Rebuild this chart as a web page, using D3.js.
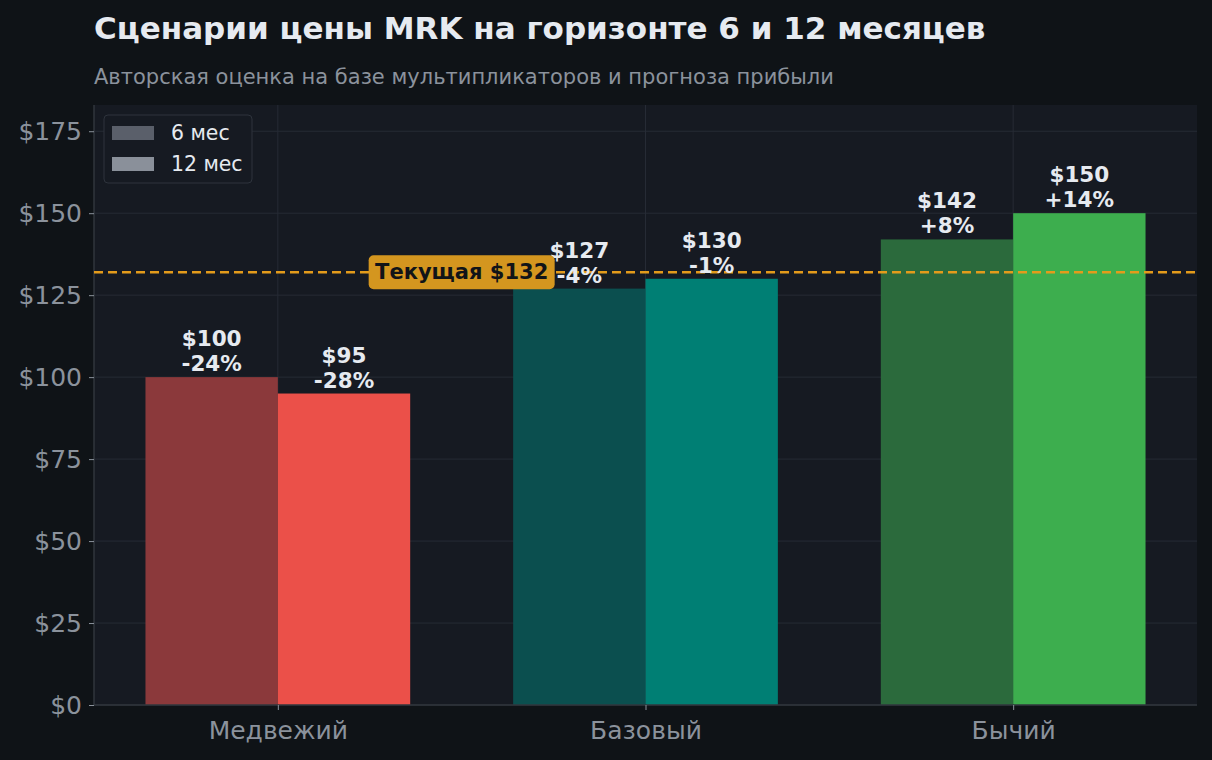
<!DOCTYPE html>
<html>
<head>
<meta charset="utf-8">
<script src="https://cdn.jsdelivr.net/npm/d3@7"></script>
<style>
  html, body { margin: 0; padding: 0; background: #0f1317; }
  svg { display: block; font-family: "DejaVu Sans", sans-serif; }
</style>
</head>
<body>
<div id="chart"></div>
<script>
const width = 1212;
const height = 760;
const margin = { top: 105, right: 15, bottom: 55, left: 94 };

// данные
const scenarios = ['Медвежий', 'Базовый', 'Бычий'];
const horizons = ['6 мес', '12 мес'];
const price6m = [100, 127, 142];
const price12m = [95, 130, 150];
const pct6m = ['-24%', '-4%', '+8%'];
const pct12m = ['-28%', '-1%', '+14%'];
const currentPrice = 132;
const yTicks = [0, 25, 50, 75, 100, 125, 150, 175];

const colors6m = ['#8b393b', '#0b4f4f', '#2b6a3c'];
const colors12m = ['#eb5049', '#007f74', '#3dae4e'];
const legendColors = ['#5a5f6a', '#8a909a'];

const svg = d3.select('#chart')
    .append('svg')
    .attr('width', width)
    .attr('height', height);

svg.append('rect')
    .attr('width', width)
    .attr('height', height)
    .attr('fill', '#0f1317');

const x = d3.scaleLinear()
    .domain([-0.5, 2.5])
    .range([margin.left, width - margin.right]);

const y = d3.scaleLinear()
    .domain([0, 150 * 1.22])
    .range([height - margin.bottom, margin.top]);

const barW = x(0.36) - x(0);

svg.append('rect')
    .attr('x', margin.left)
    .attr('y', margin.top)
    .attr('width', width - margin.right - margin.left)
    .attr('height', height - margin.bottom - margin.top)
    .attr('fill', '#161a22');

// сетка
svg.append('g')
    .selectAll('line')
    .data(yTicks)
    .join('line')
    .attr('x1', margin.left)
    .attr('x2', width - margin.right)
    .attr('y1', d => y(d))
    .attr('y2', d => y(d))
    .attr('stroke', '#262b35')
    .attr('stroke-width', 1);

svg.append('g')
    .selectAll('line')
    .data(d3.range(scenarios.length))
    .join('line')
    .attr('x1', d => x(d))
    .attr('x2', d => x(d))
    .attr('y1', margin.top)
    .attr('y2', height - margin.bottom)
    .attr('stroke', '#262b35')
    .attr('stroke-width', 1);

// столбцы
const bars = [];
scenarios.forEach((s, i) => {
    bars.push({ i, v: price6m[i], pct: pct6m[i], off: -0.18, color: colors6m[i] });
    bars.push({ i, v: price12m[i], pct: pct12m[i], off: 0.18, color: colors12m[i] });
});

svg.append('g')
    .selectAll('rect')
    .data(bars)
    .join('rect')
    .attr('x', d => x(d.i + d.off) - barW / 2)
    .attr('y', d => y(d.v))
    .attr('width', barW)
    .attr('height', d => y(0) - y(d.v))
    .attr('fill', d => d.color);

// оси
const yAxis = svg.append('g')
    .attr('transform', `translate(${margin.left},0)`)
    .call(d3.axisLeft(y).tickValues(yTicks).tickFormat(d => `$${d}`).tickSize(5).tickPadding(7));

const xAxis = svg.append('g')
    .attr('transform', `translate(0,${height - margin.bottom})`)
    .call(d3.axisBottom(x).tickValues(d3.range(scenarios.length)).tickFormat(i => scenarios[i]).tickSize(5).tickPadding(11));

[yAxis, xAxis].forEach(g => {
    g.select('.domain').attr('stroke', '#30363d').attr('stroke-width', 1.5);
    g.selectAll('.tick line').attr('stroke', '#8b929c');
    g.selectAll('.tick text')
        .attr('fill', '#8b929c')
        .attr('font-size', '25px')
        .attr('font-family', 'DejaVu Sans');
});
xAxis.select('.domain').attr('d', `M${margin.left},0H${width - margin.right}`);
yAxis.select('.domain').attr('d', `M0,${margin.top}V${height - margin.bottom}`);

// текущая цена
svg.append('line')
    .attr('x1', margin.left)
    .attr('x2', width - margin.right)
    .attr('y1', y(currentPrice))
    .attr('y2', y(currentPrice))
    .attr('stroke', '#e39b1b')
    .attr('stroke-width', 2.5)
    .attr('stroke-dasharray', '9,5');

// подписи
const labels = svg.append('g')
    .selectAll('text')
    .data(bars)
    .join('text')
    .attr('text-anchor', 'middle')
    .attr('fill', '#e6eaf0')
    .attr('font-weight', 'bold')
    .attr('font-size', '21.5px');

labels.append('tspan')
    .attr('x', d => x(d.i + d.off))
    .attr('y', d => y(d.v) - 31)
    .text(d => `$${d.v}`);
labels.append('tspan')
    .attr('x', d => x(d.i + d.off))
    .attr('y', d => y(d.v) - 6)
    .text(d => d.pct);

const cur = svg.append('g')
    .attr('transform', `translate(${x(0.5)},${y(currentPrice)})`);
cur.append('rect')
    .attr('x', -93)
    .attr('y', -17)
    .attr('width', 186)
    .attr('height', 34)
    .attr('rx', 5)
    .attr('fill', '#d4961f');
cur.append('text')
    .attr('text-anchor', 'middle')
    .attr('y', 7)
    .attr('fill', '#111418')
    .attr('font-weight', 'bold')
    .attr('font-size', '21px')
    .text(`Текущая $${currentPrice}`);

// легенда
const legend = svg.append('g')
    .attr('transform', `translate(104,115)`);
legend.append('rect')
    .attr('width', 148)
    .attr('height', 68)
    .attr('rx', 4)
    .attr('fill', '#161a22')
    .attr('stroke', '#2e333c');
horizons.forEach((h, i) => {
    legend.append('rect')
        .attr('x', 8)
        .attr('y', 11 + i * 31)
        .attr('width', 42)
        .attr('height', 14)
        .attr('fill', legendColors[i]);
    legend.append('text')
        .attr('x', 67)
        .attr('y', 25 + i * 31)
        .attr('fill', '#e6eaf0')
        .attr('font-size', '20.4px')
        .text(h);
});

// заголовки
svg.append('text')
    .attr('x', 94)
    .attr('y', 39)
    .attr('fill', '#e6eaf0')
    .attr('font-weight', 'bold')
    .attr('font-size', '31px')
    .text('Сценарии цены MRK на горизонте 6 и 12 месяцев');

svg.append('text')
    .attr('x', 94)
    .attr('y', 84)
    .attr('fill', '#8b929c')
    .attr('font-size', '21px')
    .text('Авторская оценка на базе мультипликаторов и прогноза прибыли');
</script>
</body>
</html>
